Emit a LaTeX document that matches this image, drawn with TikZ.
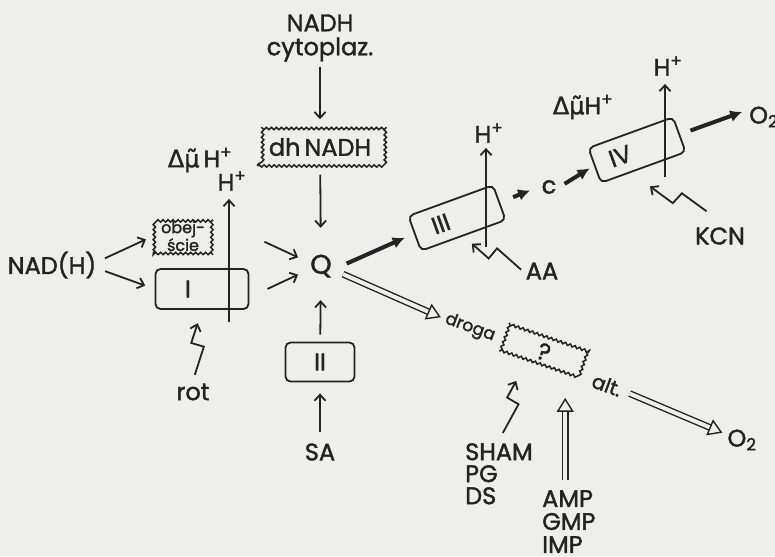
\documentclass[tikz,border=0pt]{standalone}
\usepackage{fontspec}
\setmainfont{Poppins}[UprightFeatures={FakeBold=1.6}]
\newfontfamily\grkfont{DejaVu Sans}[FakeBold=1.4]
\usepackage{tikz}
\usetikzlibrary{arrows.meta,calc,decorations.pathmorphing}
\definecolor{paper}{RGB}{238,238,234}
\definecolor{ink}{RGB}{35,35,35}

\begin{document}
\begin{tikzpicture}[
    x=1pt, y=-1pt, color=ink,
    font=\fontsize{24}{24}\selectfont,
    every node/.style={inner sep=3pt},
    cbox/.style={rectangle, draw, rounded corners=5pt, line width=1.8pt,
                 minimum width=90pt, minimum height=37pt, align=left},
    wbox/.style={rectangle, draw, line width=1.5pt, decorate,
                 decoration={snake, amplitude=1.2pt, segment length=5pt}},
    arr/.style={-{Straight Barb[length=6pt,width=11pt]}, line width=1.8pt},
    tarr/.style={-{Latex[length=12pt,width=12pt]}, line width=4pt},
    darr/.style={-{Triangle[fill=paper,length=14pt,width=17pt]}, double=paper,
                 double distance=4pt, line width=1.4pt},
    zap/.style={arr, to path={-- ($(\tikztostart)!0.49!(\tikztotarget)!6.5pt!-90:(\tikztotarget)$)
                -- ($(\tikztostart)!0.52!(\tikztotarget)!6.5pt!90:(\tikztotarget)$)
                -- (\tikztotarget) \tikztonodes}}
]
\fill[paper] (0,0) rectangle (775,556);
\useasboundingbox (0,0) rectangle (775,556);

%% complex I and the bypass
\node[align=center, font=\fontsize{24}{24}\selectfont] (nadh_cyt) at (320,38) {NADH\\cytoplaz.};
\node[wbox, minimum width=125pt, minimum height=38pt] (dh_nadh) at (320,147) {dh\,NADH};
\node[minimum width=40pt, minimum height=40pt, font=\fontsize{27}{27}\selectfont] (q) at (321,266) {Q};
\node (dmu_l) at (200,160) {{\grkfont Δμ̃}\,H\textsuperscript{+}};
\node (hp_1) at (232,181) {H\textsuperscript{+}};
\node[wbox, align=center, inner sep=2pt, minimum width=58pt, minimum height=35pt,
      font=\fontsize{16}{14}\selectfont] (obej) at (183,236) {obej-\\ście};
\node (nad) at (52,265) {NAD(H)};
\node[cbox, minimum width=93pt, minimum height=40pt, text width=34pt] (c1) at (202,289) {I};
\node (rot) at (193,392) {rot};
\coordinate (h1_foot) at (229,322);

%% complex II
\node[cbox, minimum width=69pt, minimum height=39pt, align=center] (c2) at (320,362) {II};
\node (sa) at (320,452) {SA};

%% complexes III and IV
\node[cbox, rotate=20, text width=52pt] (c3) at (457,218) {III};
\node (hp_3) at (489,133) {H\textsuperscript{+}};
\node (aa) at (542,271) {AA};
\node (cyt_c) at (549,187) {c};
\coordinate (h3_foot) at (486,247);
\node[cbox, rotate=20, text width=58pt] (c4) at (637,150) {IV};
\node (hp_4) at (668,66) {H\textsuperscript{+}};
\node (dmu_r) at (583,107) {{\grkfont Δμ̃}H\textsuperscript{+}};
\node[anchor=west] (o2_top) at (746,117) {O\textsubscript{2}};
\node (kcn) at (720,236) {KCN};
\coordinate (h4_foot) at (665,177);

%% alternative path
\node[wbox, rotate=-19, minimum width=83pt, minimum height=30pt] (alt_box) at (544,352) {?};
\node[rotate=-20, font=\fontsize{17}{17}\selectfont] (droga) at (470,328) {droga};
\node[rotate=-20, font=\fontsize{20}{20}\selectfont] (alt) at (607,385) {alt.};
\node (o2_bot) at (742,440) {O\textsubscript{2}};
\node[anchor=north west, align=left, font=\fontsize{24}{22}\selectfont] (sham) at (462,440) {SHAM\\PG\\DS};
\node[anchor=north west, align=left, text width=46pt, font=\fontsize{24}{23}\selectfont] (amp) at (539,487) {AMP\\GMP\\IMP};

%% thin arrows
\draw[arr, shorten <=2pt, shorten >=8pt]  (nadh_cyt) -- (dh_nadh);
\draw[arr, shorten <=8pt, shorten >=18pt] (dh_nadh) -- (q);
\draw[arr, shorten <=6pt, shorten >=8pt]  (nad.5) -- (obej.west);
\draw[arr, shorten <=6pt, shorten >=10pt] (nad.-5) -- (c1.west);
\draw[arr, shorten <=57pt, shorten >=3pt] (obej.north east) -- (q.160);
\draw[arr, shorten <=20pt, shorten >=3pt] (c1.-10) -- (q.200);
\draw[arr, shorten <=7pt, shorten >=14pt] (c2) -- (q);
\draw[arr, shorten <=8pt, shorten >=11pt] (sa) -- (c2);

%% proton arrows
\draw[arr, shorten >=5pt] (h1_foot) -- (h1_foot |- hp_1.south);
\draw[arr, shorten >=2pt] (h3_foot) -- (h3_foot |- hp_3.south);
\draw[arr, shorten >=5pt] (h4_foot) -- (h4_foot |- hp_4.south);

%% inhibitors
\draw[zap, shorten <=6pt, shorten >=14pt] (rot.north) to (c1.south);
\draw[zap, shorten <=2pt, shorten >=11pt] (aa.west) to (c3.south);
\draw[zap, shorten <=22pt, shorten >=23pt] (kcn.70) to (c4.236);
\draw[zap, shorten <=8pt, shorten >=21pt] (sham.north) to (alt_box.230);

%% main chain
\draw[tarr, shorten <=6pt, shorten >=10pt] (q.east) -- (c3.west);
\draw[tarr, shorten <=14pt, shorten >=9pt] (c3.east) -- (cyt_c.west);
\draw[tarr, shorten <=6pt, shorten >=5pt]  (cyt_c.east) -- (c4.west);
\draw[tarr, shorten <=11pt, shorten >=4pt] (c4.east) -- (o2_top.160);

%% alternative oxidase
\draw[darr, shorten <=2pt, shorten >=2pt] (q.-20) -- (droga.west);
\draw[darr, shorten <=6pt, shorten >=2pt] (alt.east) -- (o2_bot.160);
\draw[darr, shorten <=7pt, shorten >=31pt] (amp.north) -- (amp.north |- alt_box.south);

\end{tikzpicture}
\end{document}
